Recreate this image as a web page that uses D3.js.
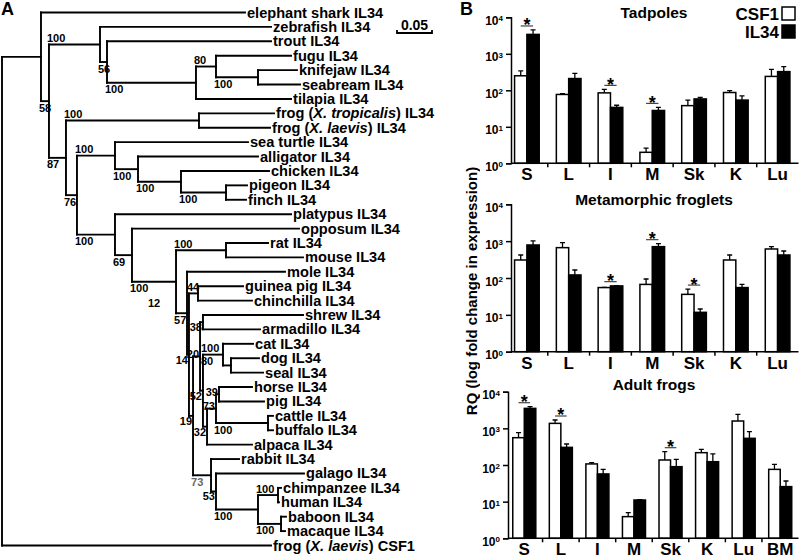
<!DOCTYPE html>
<html><head><meta charset="utf-8">
<script src="https://cdn.jsdelivr.net/npm/d3@7"></script>
<style>
body{margin:0;background:#fff;}
svg{display:block;font-family:"Liberation Sans",Arial,Helvetica,sans-serif;font-weight:bold;}
svg text{opacity:0.999;}
</style></head><body>
<svg id="fig" width="800" height="558"></svg>
<script>
// ---------- Panel A: tree (parent list, distance from root) ----------
const treeIds = ["root","IL34","elephant shark IL34","B","F1","zebrafish IL34","F2","trout IL34","F3","F4","fugu IL34","F5","knifejaw IL34","seabream IL34","tilapia IL34",
"T","Frog","frog (_X. tropicalis_) IL34","frog (_X. laevis_) IL34","Amn","Saur","sea turtle IL34","Arch","alligator IL34","Birds","chicken IL34","PF","pigeon IL34","finch IL34",
"Mam","platypus IL34","Ther","opposum IL34","Euth","Rod","rat IL34","mouse IL34","E2","mole IL34","P","Cav","guinea pig IL34","chinchilla IL34",
"N19","Lau","SA","shrew IL34","armadillo IL34","L2","Carn","cat IL34","DS","dog IL34","seal IL34","Ung","HPCB","HP","horse IL34","pig IL34","CB","cattle IL34","buffalo IL34","alpaca IL34",
"Euar","rabbit IL34","Prim","galago IL34","Cata","CH","chimpanzee IL34","human IL34","BM","baboon IL34","macaque IL34","frog (_X. laevis_) CSF1"];
const treeParents = ["","root","IL34","IL34","B","F1","F1","F2","F2","F3","F4","F4","F5","F5","F3",
"B","T","Frog","Frog","T","Amn","Saur","Saur","Arch","Arch","Birds","Birds","PF","PF",
"Amn","Mam","Mam","Ther","Ther","Euth","Rod","Rod","Euth","E2","E2","P","Cav","Cav",
"P","N19","Lau","SA","SA","Lau","L2","Carn","Carn","DS","DS","L2","Ung","HPCB","HP","HP","HPCB","CB","CB","Ung",
"N19","Euar","Euar","Prim","Prim","Cata","CH","CH","Cata","BM","BM","root"];
const treeDepths = [0,0.0557,0.3471,0.0671,0.14,0.3843,0.15,0.3843,0.2771,0.3057,0.4129,0.3657,0.4214,0.4257,0.4129,
0.0914,0.2814,0.3886,0.3829,0.1071,0.1614,0.3514,0.1943,0.3657,0.2557,0.3814,0.32,0.35,0.3486,
0.1614,0.4129,0.1857,0.4243,0.2486,0.32,0.38,0.43,0.2643,0.4043,0.2671,0.28,0.3443,0.3571,
0.2729,0.2829,0.2871,0.43,0.3686,0.2871,0.3157,0.3586,0.3271,0.3671,0.3729,0.2929,0.3057,0.31,0.3571,0.3743,0.38,0.3871,0.3871,0.3571,
0.2986,0.3386,0.3057,0.4314,0.3657,0.3943,0.3986,0.3957,0.3986,0.4057,0.4043,0.3843];
const bootNodes = ["B","F1","F2","F3","F4","F5","T","Frog","Amn","Saur","Arch","Birds","PF","Mam","Ther","Euth","Euth","Rod","E2","Cav","P","SA","Lau","Carn","Carn","L2","HP","HPCB","CB","Ung","N19","Euar","Prim","Cata","CH","BM"];
const bootTexts = ["58","100","56","100","80","100","87","100","76","100","100","100","100","100","69","100","12","100","57","44","14","38","20","100","80","52","39","73","100","32","19","73","53","100","100","100"];
const bootPos   = ["b","a","b","b","a","b","b","a","b","a","b","b","b","b","b","b","bb","a","b","a","l","l","m","a","b","l","m","m","b","l","l","b","l","b","a","b"];
const bootGrey  = ["Euar"];
const scaleBarValue = 0.05;

// ---------- Panel B: qPCR data ----------
const tissues7 = ["S","L","I","M","Sk","K","Lu"];
const tissues8 = ["S","L","I","M","Sk","K","Lu","BM"];
const seriesNames = ["CSF1","IL34"];
const yTickValues = [1,10,100,1000,10000];

const tadCSF1    = [250, 77, 85, 2.0, 38, 87, 240];
const tadCSF1Sem = [90, 4, 21, 0.6, 16, 11, 136];
const tadIL34    = [3400, 210, 34, 28, 58, 54, 325];
const tadIL34Sem = [1100, 82, 5, 6, 6, 16, 120];
const tadSig     = ["S","I","M"];

const metCSF1    = [308, 666, 55, 67, 36, 308, 613];
const metCSF1Sem = [113, 244, 1, 27, 14, 113, 96];
const metIL34    = [787, 121, 61, 709, 11.7, 55, 421];
const metIL34Sem = [224, 44, 1, 146, 2.7, 12, 120];
const metSig     = ["I","M","Sk"];

const aduCSF1    = [556, 1368, 107, 3.9, 137, 217, 1585, 76];
const aduCSF1Sem = [206, 322, 9, 1.1, 94, 50, 825, 28];
const aduIL34    = [3510, 303, 57, 11.1, 90, 123, 534, 25.7];
const aduIL34Sem = [390, 71, 19, 0.2, 53, 77, 277, 10.9];
const aduSig     = ["S","L","Sk"];

const svg = d3.select("#fig");
svg.append("text").attr("x",1).attr("y",15).attr("font-size",18).text("A");
svg.append("text").attr("x",460).attr("y",15).attr("font-size",18).text("B");

// ---- tree ----
const tx = d3.scaleLinear().domain([0, 0.05]).range([2, 37]);
const rows = treeIds.map((id,i)=>({id, parent: treeParents[i], depth: treeDepths[i]}));
const root = d3.stratify().id(d=>d.id).parentId(d=>d.parent===""?null:d.parent)(rows);
const leaves = root.leaves();
const ty = d3.scalePoint().domain(leaves.map(d=>d.id)).range([12.5, 545.5]);
root.eachAfter(n=>{
  n.px = tx(n.data.depth);
  n.py = n.children ? (n.children[0].py + n.children[n.children.length-1].py)/2 : ty(n.id);
});
const gT = svg.append("g").attr("fill","none").attr("stroke","#000").attr("stroke-width",1.9).attr("stroke-linecap","square");
gT.selectAll("path.h").data(root.descendants().filter(n=>n.parent)).join("path")
  .attr("d", n=>`M${n.parent.px},${n.py}H${n.px}`);
gT.selectAll("path.v").data(root.descendants().filter(n=>n.children)).join("path")
  .attr("d", n=>`M${n.px},${n.children[0].py}V${n.children[n.children.length-1].py}`);

const gL = svg.append("g").attr("font-size",14.6);
leaves.forEach(n=>{
  const t = gL.append("text").attr("x", n.px+2).attr("y", n.py+5);
  n.id.split("_").forEach((s,i)=>{ if(s) t.append("tspan").attr("font-style", i%2 ? "italic" : null).text(s); });
});

const byId = new Map(root.descendants().map(n=>[n.id,n]));
const gB = svg.append("g").attr("font-size",11);
bootNodes.forEach((id,i)=>{
  const n = byId.get(id), m = bootPos[i];
  let x, y, anchor = "start";
  if (m==="a") { x = n.parent.px-2; y = n.py-2.5; }
  else if (m==="b") { x = n.parent.px-2; y = n.py+10.5; }
  else if (m==="bb") { x = n.parent.px+16; y = n.py+25; }
  else if (m==="l") { x = n.px-1; y = n.py+9; anchor = "end"; }
  else { x = n.px-1; y = n.py+1.5; anchor = "end"; }
  gB.append("text").attr("x",x).attr("y",y).attr("text-anchor",anchor)
    .attr("fill", bootGrey.includes(id) && bootTexts[i]==="73" ? "#666" : "#000").text(bootTexts[i]);
});

// scale bar
const sbX = 397, sbY = 33, sbLen = tx(scaleBarValue) - tx(0);
svg.append("path").attr("d",`M${sbX},${sbY-3}V${sbY}H${sbX+sbLen}V${sbY-3}`)
  .attr("fill","none").attr("stroke","#000").attr("stroke-width",1.8);
svg.append("text").attr("x", sbX+sbLen/2).attr("y", sbY-3).attr("text-anchor","middle").attr("font-size",14).text(String(scaleBarValue));

// ---- bar charts ----
const panels = [
  {title:"Tadpoles", cats:tissues7, c:tadCSF1, cs:tadCSF1Sem, i:tadIL34, is:tadIL34Sem, sig:tadSig, top:17.3, bottom:163.3, axisX:511, frac:0.295, titleY:18},
  {title:"Metamorphic froglets", cats:tissues7, c:metCSF1, cs:metCSF1Sem, i:metIL34, is:metIL34Sem, sig:metSig, top:204.3, bottom:351.7, axisX:511, frac:0.295, titleY:205},
  {title:"Adult frogs", cats:tissues8, c:aduCSF1, cs:aduCSF1Sem, i:aduIL34, is:aduIL34Sem, sig:aduSig, top:391.7, bottom:538.3, axisX:508, frac:0.315, titleY:390}
];
const right = 798.5;
panels.forEach(p=>{
  const g = svg.append("g");
  const x = d3.scaleBand().domain(p.cats).range([506, right]);
  const y = d3.scaleLog().domain([1, 1e4]).range([p.bottom, p.top]);
  const bw = x.bandwidth(), w = bw*p.frac;
  const cx = c => x(c) + bw/2;
  const series = [{v:p.c, e:p.cs, fill:"#fff", off:-w}, {v:p.i, e:p.is, fill:"#000", off:0}];
  series.forEach(s=>{
    g.append("g").selectAll("path").data(p.cats).join("path")
      .attr("d",(c,k)=>`M${cx(c)+s.off+w/2},${y(s.v[k])}V${y(s.v[k]+s.e[k])}M${cx(c)+s.off+w/2-2.5},${y(s.v[k]+s.e[k])}H${cx(c)+s.off+w/2+2.5}`)
      .attr("stroke","#000").attr("stroke-width",1.3).attr("fill","none");
    g.append("g").selectAll("rect").data(p.cats).join("rect")
      .attr("x", c=>cx(c)+s.off).attr("width", w)
      .attr("y",(c,k)=>y(s.v[k])).attr("height",(c,k)=>p.bottom - y(s.v[k]))
      .attr("fill", s.fill).attr("stroke","#000").attr("stroke-width",1.5);
  });
  const ya = g.append("g").attr("transform",`translate(${p.axisX},0)`)
    .call(d3.axisLeft(y).tickValues(yTickValues).tickSize(5).tickFormat(()=>""));
  ya.select(".domain").attr("stroke-width",1.5);
  ya.selectAll(".tick line").attr("stroke-width",1.5);
  ya.selectAll(".tick").each(function(v){
    const t = d3.select(this).append("text").attr("x",-8).attr("y",7).attr("text-anchor","end")
      .attr("fill","#000").attr("font-size",12).attr("font-weight","bold").attr("font-family","Liberation Sans, Arial, sans-serif");
    t.append("tspan").text("10");
    t.append("tspan").attr("font-size",8).attr("dy",-3.5).text(String(Math.round(Math.log10(v))));
  });
  const xa = g.append("g").attr("transform",`translate(0,${p.bottom})`)
    .call(d3.axisBottom(x).tickSize(0).tickPadding(5));
  xa.select(".domain").remove();
  xa.selectAll(".tick text").attr("font-size",17).attr("font-weight","bold").attr("fill","#000")
    .attr("font-family","Liberation Sans, Arial, sans-serif").attr("dy","0.71em");
  g.append("line").attr("x1",p.axisX).attr("x2",right).attr("y1",p.bottom).attr("y2",p.bottom)
    .attr("stroke","#000").attr("stroke-width",1.5);
  g.append("g").selectAll("line").data(p.cats.slice(1)).join("line")
    .attr("x1",c=>x(c)).attr("x2",c=>x(c)).attr("y1",p.bottom).attr("y2",p.bottom+4)
    .attr("stroke","#000").attr("stroke-width",1.5);
  p.sig.forEach(c=>{
    const k = p.cats.indexOf(c);
    const ly = Math.min(y(p.c[k]+p.cs[k]), y(p.i[k]+p.is[k])) - 4;
    g.append("line").attr("x1",cx(c)-w/2).attr("x2",cx(c)+w/2).attr("y1",ly).attr("y2",ly)
      .attr("stroke","#444").attr("stroke-width",1.2);
    g.append("text").attr("x",cx(c)).attr("y",ly+5.5).attr("text-anchor","middle").attr("font-size",18).text("*");
  });
  g.append("text").attr("x",654).attr("y",p.titleY).attr("text-anchor","middle").attr("font-size",15.5).text(p.title);
});

const leg = svg.append("g").attr("font-size",17);
seriesNames.forEach((s,i)=>{
  leg.append("rect").attr("x",782).attr("y",7+i*18).attr("width",13).attr("height",13)
    .attr("fill", i ? "#000" : "#fff").attr("stroke","#000").attr("stroke-width",1.5);
  leg.append("text").attr("x",779).attr("y",20+i*18).attr("text-anchor","end").text(s);
});

svg.append("text").attr("transform","translate(477,291) rotate(-90)").attr("text-anchor","middle")
  .attr("font-size",15).text("RQ (log fold change in expression)");
</script></body></html>
